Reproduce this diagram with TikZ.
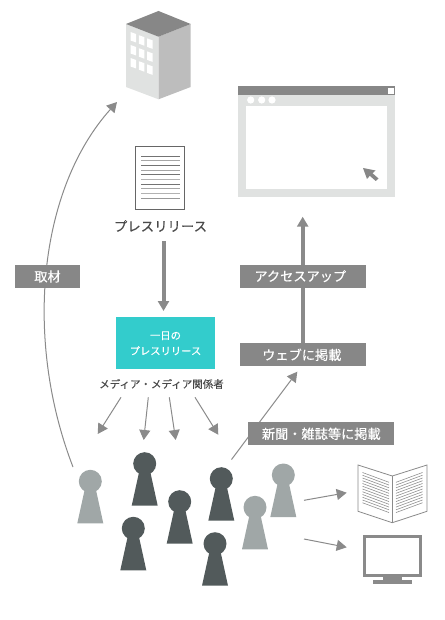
\documentclass[tikz,border=0pt]{standalone}
\usepackage{fontspec}
\setmainfont[FakeBold=0.3]{Noto Sans CJK JP}
\usetikzlibrary{arrows.meta}
\definecolor{lab}{HTML}{878787}
\definecolor{arr}{HTML}{8A8A8A}
\definecolor{teal1}{HTML}{33CCCC}
\definecolor{pale}{HTML}{E0E2E1}
\definecolor{dark}{HTML}{525A5B}
\definecolor{lite}{HTML}{A0A7A7}
\definecolor{txt}{HTML}{4A4A4A}
\tikzset{
  x=1pt,y=-1pt,
  labelbox/.style={fill=lab,text=white,inner sep=0pt,font=\fontsize{13.2}{13}\selectfont},
  thinarrow/.style={draw=arr,line width=1pt,-{Triangle[length=10pt,width=11pt,fill=arr]}},
  thickarrow/.style={draw=arr,line width=4pt,-{Triangle[length=10pt,width=11pt,fill=arr]}},
  pawn/.pic={
    \fill[pic actions] (-5.7,8.7) -- (-13,42) -- (13,42) -- (5.7,8.7) -- cycle;
    \fill[pic actions] (0,0) circle (11.5);
  },
  docline/.style={draw=#1,line width=0.8pt},
  bookline/.style={draw=arr,line width=0.55pt},
}
\begin{document}
\begin{tikzpicture}
\useasboundingbox (0,0) rectangle (444,620);
% building
\fill[pale] (126,24) -- (158.5,36.7) -- (158.5,99.3) -- (126,87) -- cycle;
\fill[black!26] (158.5,36.7) -- (190.7,24) -- (190.7,87) -- (158.5,99.3) -- cycle;
\fill[lab] (158.5,11) -- (190.7,24) -- (158.5,36.7) -- (126,24) -- cycle;
\foreach \r/\dy in {0/0,1/13,2/26}{
  \foreach \c/\ddy in {0/0,1/3.2,2/6.4}{
    \pgfmathsetmacro{\xa}{130.5+\c*8.3}
    \pgfmathsetmacro{\ya}{32+\dy+\ddy}
    \fill[white] (\xa,\ya) -- ++(5.6,2) -- ++(0,8.5) -- ++(-5.6,-2) -- cycle;
  }
}
% browser
\fill[pale] (238,86.3) rectangle (395,197.3);
\fill[lab] (238,86.3) rectangle (395,95);
\fill[white] (388.3,88.3) rectangle (393.7,93.7);
\foreach \x in {250.7,261.7,272}{\fill[white] (\x,100) circle (3.6);}
\fill[white] (246,106) rectangle (386.7,189);
\fill[lab] (363,168) -- (375.5,170.5) -- (372.5,173.2) -- (378.5,178.5) -- (375.7,181) -- (369.8,175.8) -- (367,179) -- cycle;
% document
\draw[draw=black!60,line width=0.8pt,fill=white] (135.3,146) rectangle (184.3,209.3);
\foreach \y/\c in {156/black!55,160.7/black!35,165.4/black!55,170/black!35,174.7/black!55,179.4/black!30,184/black!55,188.7/black!35,193.4/black!30,198.3/black!40}{
  \draw[docline=\c] (141,\y) -- (180,\y);
}
\node[inner sep=0pt,text=txt,font=\fontsize{13.4}{13}\selectfont] (prtitle) at (160.5,226) {プレスリリース};
% coordinates and boxes
\node[fill=teal1,inner sep=0pt,minimum width=99pt,minimum height=52pt] (daybox) at (165.5,343.3) {};
\node[inner sep=0pt,text=white,font=\fontsize{10.3}{10.3}\selectfont] (dayone) at (165.5,335.7) {一日の};
\node[inner sep=0pt,text=white,font=\fontsize{10.3}{10.3}\selectfont] (daytwo) at (165.5,350.7) {プレスリリース};
\node[inner sep=0pt,text=txt,font=\fontsize{10.5}{10.4}\selectfont] (media) at (161.5,384) {メディア・メディア関係者};
% thick arrows
\coordinate (pra) at (163.5,241);
\coordinate (prb) at (163.5,311);
\draw[thickarrow] (pra) -- (prb);
\coordinate (upb) at (302.7,216.7);
\node[labelbox,minimum width=126.3pt,minimum height=23pt] (web) at (302.8,354.8) {\hspace{-2pt}ウェブに掲載};
\draw[thickarrow] (web.north -| upb) -- (upb);
\node[labelbox,minimum width=126.3pt,minimum height=23pt] (access) at (302.8,276.2) {\hspace{-5pt}アクセスアップ};
% thin arrows
\coordinate (m1a) at (121,397.3); \coordinate (m1b) at (97.7,434);
\coordinate (m2a) at (148.3,397.3); \coordinate (m2b) at (143.7,440);
\coordinate (m3a) at (169.3,397.3); \coordinate (m3b) at (175.7,440);
\coordinate (m4a) at (195,397.3); \coordinate (m4b) at (218.3,434.7);
\draw[thinarrow] (m1a) -- (m1b);
\draw[thinarrow] (m2a) -- (m2b);
\draw[thinarrow] (m3a) -- (m3b);
\draw[thinarrow] (m4a) -- (m4b);
\coordinate (da) at (231.5,459.5); \coordinate (db) at (297.3,371.7);
\draw[thinarrow] (da) -- (db);
\node[labelbox,minimum width=146pt,minimum height=23pt] (news) at (321.3,433.8) {新聞・雑誌等に掲載};
\coordinate (ca) at (73,467); \coordinate (cb) at (117,102);
\draw[thinarrow] (ca) .. controls (24,340) and (38,190) .. (cb);
\node[labelbox,minimum width=65pt,minimum height=23pt] (cover) at (47.5,276.5) {取材};
\coordinate (ba) at (304,500.3); \coordinate (bb) at (346.7,492.7);
\coordinate (ta) at (304,539); \coordinate (tb) at (346.7,547.3);
\draw[thinarrow] (ba) -- (bb);
\draw[thinarrow] (ta) -- (tb);
% people
\foreach \x/\y/\c in {90.3/481.3/lite,144.7/463.7/dark,179.7/501.7/dark,221.3/478.7/dark,255/507.3/lite,283.3/475/lite,133.3/528.3/dark,215/543.7/dark}{
  \pic[fill=\c] at (\x,\y) {pawn};
}
% book
\draw[draw=arr,line width=0.8pt,fill=white,line join=miter] (358,465) -- (392.3,476) -- (427,465) -- (427,511.3) -- (392.3,522.7) -- (358,511.3) -- cycle;
\draw[draw=arr,line width=0.8pt] (392.3,476) -- (392.3,522.7);
\foreach \i in {0,...,11}{
  \pgfmathsetmacro{\ya}{472.5+\i*2.75}
  \pgfmathsetmacro{\yb}{\ya+9.8}
  \draw[bookline] (362.5,\ya) -- (389,\yb);
  \draw[bookline] (422.5,\ya) -- (396,\yb);
}
% monitor
\fill[arr] (362.7,535.3) rectangle (422.3,576.7);
\fill[white] (365.7,538.3) rectangle (419.3,573.7);
\fill[arr] (383.3,576.7) rectangle (401.7,580);
\fill[arr] (373,580) rectangle (411.7,584);
\end{tikzpicture}
\end{document}
